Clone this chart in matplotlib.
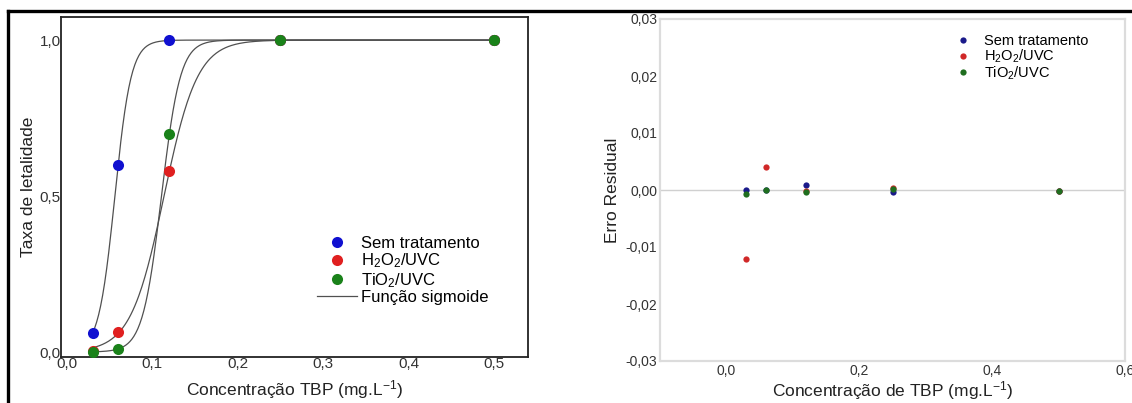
import numpy as np
import matplotlib.pyplot as plt
from matplotlib.lines import Line2D

plt.rcParams['font.family'] = ['Liberation Sans', 'DejaVu Sans']
plt.rcParams['mathtext.fontset'] = 'custom'
plt.rcParams['mathtext.rm'] = 'Liberation Sans'
plt.rcParams['mathtext.it'] = 'Liberation Sans:italic'
plt.rcParams['mathtext.default'] = 'regular'

# dados
conc = [0.03, 0.06, 0.12, 0.25, 0.5]
series = ["Sem tratamento", "H$_2$O$_2$/UVC", "TiO$_2$/UVC"]
letal_sem = [0.061, 0.60, 1.0, 1.0, 1.0]
letal_h2o2 = [0.002, 0.063, 0.58, 1.0, 1.0]
letal_tio2 = [0.0, 0.011, 0.70, 1.0, 1.0]
# parametros da sigmoide (k, x0)
sig_k = [105.0, 51.2, 90.8]
sig_x0 = [0.0561, 0.1137, 0.1107]
res_sem = [0.0, 0.0, 0.0008, -0.0004, -0.0002]
res_h2o2 = [-0.0121, 0.0041, -0.0002, 0.0004, -0.0002]
res_tio2 = [-0.0007, 0.0, -0.0004, 0.0001, -0.0002]

cores = ["#1010d0", "#e02020", "#1a821a"]
cores_res = ["#1a1a8a", "#d02828", "#1f6e1f"]

fig = plt.figure(figsize=(11.32, 4.03), dpi=100)

# --- grafico da esquerda
ax1 = fig.add_axes([61/1132, 46/403, 467/1132, 340/403])
xs = np.linspace(conc[0], conc[-1], 400)
for k, x0 in zip(sig_k, sig_x0):
    ax1.plot(xs, 1/(1 + np.exp(-k*(xs - x0))), color="#505050", lw=0.9, zorder=2)
for y, c, lab in zip([letal_sem, letal_h2o2, letal_tio2], cores, series):
    ax1.plot(conc, y, 'o', color=c, ms=8, mec='none', label=lab, zorder=3)
ax1.set_xlim(-0.007, 0.54)
ax1.set_ylim(-0.016, 1.074)
ax1.set_xticks([0, 0.1, 0.2, 0.3, 0.4, 0.5])
ax1.set_xticklabels(["0,0", "0,1", "0,2", "0,3", "0,4", "0,5"])
ax1.set_yticks([0, 0.5, 1.0])
ax1.set_yticklabels(["0,0", "0,5", "1,0"])
ax1.tick_params(length=0, labelsize=11, colors="#333333", pad=0)
for s in ax1.spines.values():
    s.set_linewidth(1.3)
    s.set_color("#222222")
ax1.set_xlabel("Concentração TBP (mg.L$^{-1}$)", fontsize=12.5, color="#222222", labelpad=5)
ax1.set_ylabel("Taxa de letalidade", fontsize=12.5, color="#222222", labelpad=3)
h, l = ax1.get_legend_handles_labels()
h.append(Line2D([], [], color="#505050", lw=0.9))
l.append("Função sigmoide")
ax1.legend(h, l, loc="upper left", bbox_to_anchor=(0.548, 0.355), frameon=False,
           fontsize=12, handlelength=2.4, handletextpad=0.25, labelspacing=0.03,
           borderpad=0, borderaxespad=0)

# --- grafico da direita (residuos)
ax2 = fig.add_axes([660/1132, 42/403, 465/1132, 342/403])
ax2.axhline(0, color="#d0d0d0", lw=1, zorder=1)
for y, c, lab in zip([res_sem, res_h2o2, res_tio2], cores_res, series):
    ax2.plot(conc, y, 'o', color=c, ms=4.5, mec='none', label=lab, zorder=3)
ax2.set_xlim(-0.1, 0.6)
ax2.set_ylim(-0.03, 0.03)
ax2.set_xticks([0, 0.2, 0.4, 0.6])
ax2.set_xticklabels(["0,0", "0,2", "0,4", "0,6"])
ax2.set_yticks([-0.03, -0.02, -0.01, 0, 0.01, 0.02, 0.03])
ax2.set_yticklabels(["-0,03", "-0,02", "-0,01", "0,00", "0,01", "0,02", "0,03"])
ax2.tick_params(length=0, labelsize=10, colors="#333333", pad=2)
for s in ax2.spines.values():
    s.set_linewidth(1.6)
    s.set_color("#dcdcdc")
ax2.set_xlabel("Concentração de TBP (mg.L$^{-1}$)", fontsize=12.5, color="#222222", labelpad=1)
ax2.set_ylabel("Erro Residual", fontsize=12.5, color="#222222", labelpad=4)
ax2.legend(loc="upper left", bbox_to_anchor=(0.637, 0.955), frameon=False,
           fontsize=10.5, handlelength=1.0, handletextpad=0.9, labelspacing=-0.05,
           borderpad=0, borderaxespad=0)

# moldura preta
fig.add_artist(Line2D([0.0071, 1], [1 - 11/403, 1 - 11/403], color="black", lw=2.4))
fig.add_artist(Line2D([0.0071, 0.0071], [0, 1 - 11/403], color="black", lw=2.4))

fig.savefig("out.png", dpi=100)
